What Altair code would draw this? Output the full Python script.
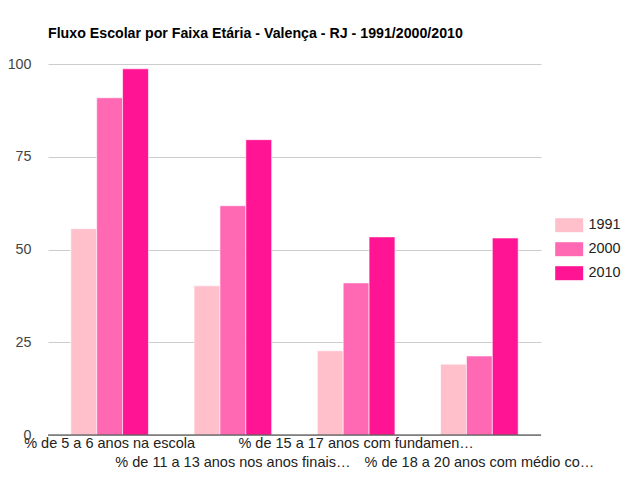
import altair as alt
import pandas as pd

categories = [
    "% de 5 a 6 anos na escola",
    "% de 11 a 13 anos nos anos finais…",
    "% de 15 a 17 anos com fundamen…",
    "% de 18 a 20 anos com médio co…",
]
years = ["1991", "2000", "2010"]
v1991 = [55.6, 40.2, 22.7, 19.1]
v2000 = [90.9, 61.8, 41.0, 21.3]
v2010 = [98.7, 79.6, 53.4, 53.1]
colors = ["#ffc0cb", "#ff69b4", "#ff1493"]
y_ticks = [0, 25, 50, 75, 100]

rows = []
for yr, vals in zip(years, [v1991, v2000, v2010]):
    for c, v in zip(categories, vals):
        rows.append({"cat": c, "ano": yr, "valor": v})
df = pd.DataFrame(rows)

odd = [categories[1], categories[3]]
label_expr = (
    "(datum.value == '" + odd[0] + "' || datum.value == '" + odd[1] + "') ? ['', datum.label] : datum.label"
)

bars = alt.Chart(df).mark_bar(stroke="white", strokeWidth=0.6).encode(
    x=alt.X("cat:N", sort=categories, title=None,
            scale=alt.Scale(paddingInner=0.37, paddingOuter=0.185),
            axis=alt.Axis(labelAngle=0, labelExpr=label_expr, labelLimit=0,
                          labelFont="Liberation Sans", labelFontSize=14.5,
                          labelColor="#222", labelLineHeight=19,
                          labelPadding=1, ticks=False, domain=False, grid=False)),
    xOffset=alt.XOffset("ano:N", sort=years, scale=alt.Scale(paddingInner=0.0)),
    y=alt.Y("valor:Q", title=None,
            scale=alt.Scale(domain=[0, 100], nice=False),
            axis=alt.Axis(values=y_ticks, labelFont="Liberation Sans", labelFontSize=14.3,
                          labelColor="#444", ticks=False, domain=False,
                          labelPadding=17, gridColor="#cccccc")),
    color=alt.Color("ano:N", sort=years,
                    scale=alt.Scale(domain=years, range=colors),
                    legend=alt.Legend(title=None, orient="none", legendX=514, legendY=154,
                                      symbolType="M-2,-1H2V1H-2Z", symbolSize=196,
                                      symbolStrokeWidth=0, labelFont="Liberation Sans",
                                      labelFontSize=14.4, labelColor="#222",
                                      rowPadding=8, labelOffset=12)),
)

baseline = alt.Chart(pd.DataFrame({"y": [0]})).mark_rule(color="#333333", strokeWidth=1).encode(
    y="y:Q"
)

chart = alt.layer(bars, baseline).properties(
    width=493, height=371,
    background="white",
    autosize=alt.AutoSizeParams(type="none"),
    padding={"left": 48, "top": 64, "right": 92, "bottom": 46},
    title=alt.Title("Fluxo Escolar por Faixa Etária - Valença - RJ - 1991/2000/2010",
                    anchor="start", frame="group", offset=16,
                    font="Liberation Sans", fontSize=14.2, fontWeight="bold", color="#000000"),
).configure_view(strokeWidth=0, stroke="transparent")

chart.save("out.html", embed_options={"renderer": "svg", "actions": False})
